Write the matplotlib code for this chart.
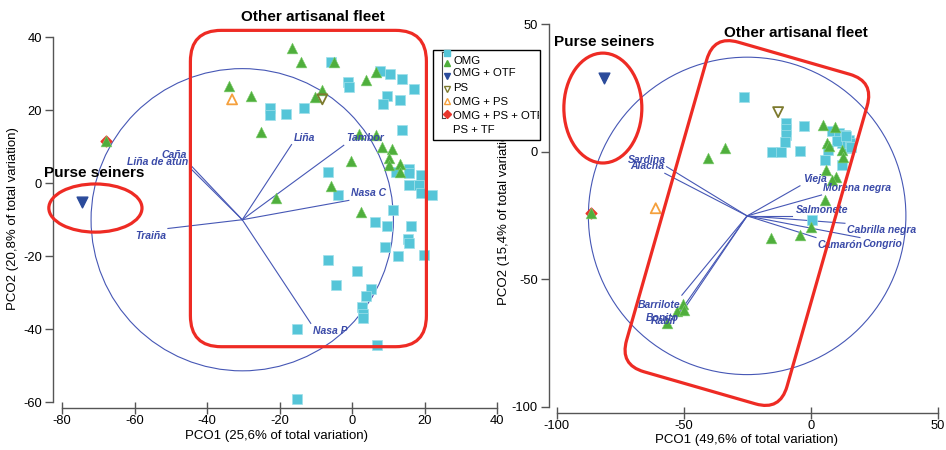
import matplotlib
matplotlib.use("Agg")
import matplotlib.pyplot as plt
from matplotlib.patches import Ellipse, FancyBboxPatch, Rectangle
from matplotlib.lines import Line2D
from matplotlib.transforms import Affine2D

plt.rcParams['font.family'] = ['Liberation Sans', 'DejaVu Sans']
plt.rcParams['axes.unicode_minus'] = False

# ---- left panel data (PCO1 25,6% / PCO2 20,8%) ----
left_omg_x = [-5.7, 7.6, 10.4, 13.9, 17.0, -1.1, -0.8, 9.7, 8.6, 13.2, -22.7, -22.7, -18.3, -13.3, 13.8,
              15.7, 15.7, 18.9, 12.2, 15.6, 18.5, 18.9, 22.1, -6.6, -3.9, 11.3, 6.4, 9.7, 16.2, 9.0,
              15.4, 15.7, 12.7, 19.9, -6.6, 1.4, -4.5, 5.1, 3.8, 2.6, 3.0, 2.9, -15.3, 7.0, -15.1]
left_omg_y = [33.1, 30.8, 29.9, 28.7, 25.8, 27.8, 26.4, 23.9, 21.6, 22.9, 20.5, 18.6, 19.1, 20.5, 14.7,
              3.8, 2.7, 2.2, 3.1, -0.5, -0.5, -2.8, -3.3, 3.1, -3.3, -7.4, -10.6, -11.8, -11.8, -17.4,
              -15.2, -16.3, -20.0, -19.8, -20.9, -24.0, -27.9, -29.1, -30.9, -33.9, -35.7, -36.8, -40.0, -44.2, -59.2]
left_otf_x = [-16.6, -14.0, -5.0, -34.0, -27.9, -25.0, -10.3, -8.4, 3.8, 6.7, 1.8, 6.5, 8.3, 10.9,
              10.2, 10.2, 13.2, 13.2, -0.4, -5.7, -21.1, 2.4, -67.9]
left_otf_y = [37.2, 33.1, 33.1, 26.6, 23.8, 14.1, 23.6, 25.5, 28.4, 30.5, 13.6, 13.2, 9.9, 9.5,
              6.8, 5.1, 5.4, 3.1, 6.1, -0.8, -4.0, -8.0, 11.6]
left_ps = (-74.5, -5.1)
left_omg_ps = (-8.2, 23.0)
left_omg_ps_otf = (-33.1, 23.0)
left_ps_tf = (-67.9, 11.6)

left_origin = (-30.3, -10.0)
left_radius = 41.7
left_vec_names = ['Caña', 'Liña de atún', 'Liña', 'Tambor', 'Nasa C', 'Nasa P', 'Traiña']
left_vec_x = [-44.3, -44.3, -16.7, -2.3, -0.9, -11.4, -50.8]
left_vec_y = [4.7, 3.8, 10.6, 10.4, -4.7, -38.4, -12.4]

# ---- right panel data (PCO1 49,6% / PCO2 15,4%) ----
right_omg_x = [-26.1, -9.7, -9.7, -9.7, -10.1, -15.4, -11.8, -4.2, -2.5, 8.3, 11.1, 13.5, 15.2, 14.6,
               12.2, 10.2, 15.5, 6.9, 5.6, 12.2, 0.6, 14.0, 15.9]
right_omg_y = [21.6, 11.1, 8.8, 6.5, 3.9, 0.0, 0.0, 0.3, 10.1, 8.0, 7.3, 6.5, 4.6, 1.3,
               3.3, 4.0, 3.3, 0.7, -3.3, -5.3, -26.8, 6.0, 2.0]
right_otf_x = [-33.7, -40.6, 5.0, 9.6, 6.6, 7.2, 12.2, 12.9, 6.0, 10.0, 8.3, 5.6, 0.0, -4.2, -15.7,
               -50.4, -52.8, -49.9, -56.7, -86.6]
right_otf_y = [1.3, -2.6, 10.4, 9.8, 3.3, 2.4, 0.7, -2.0, -7.2, -9.8, -11.0, -18.9, -29.4, -32.7, -34.0,
               -59.7, -62.7, -62.1, -67.3, -24.2]
right_ps = (-81.3, 28.8)
right_omg_ps = (-12.8, 15.5)
right_omg_ps_otf = (-61.0, -22.2)
right_ps_tf = (-86.6, -24.2)

right_origin = (-25.0, -25.2)
right_radius = 62.5
right_vec_names = ['Sardina', 'Alacha', 'Vieja', 'Morena negra', 'Salmonete', 'Cabrilla negra',
                   'Congrio', 'Camarón', 'Barrilote', 'Bonito', 'Rabil']
right_vec_x = [-56.7, -57.4, -4.2, 4.3, -7.5, 13.5, 19.4, 2.1, -50.7, -51.5, -50.3]
right_vec_y = [-5.9, -8.5, -13.4, -17.0, -25.2, -28.1, -33.7, -33.7, -56.3, -62.9, -62.5]

legend_labels = ['OMG', 'OMG + OTF', 'PS', 'OMG + PS', 'OMG + PS + OTF', 'PS + TF']

CYAN = '#55c5d8'
GREEN = '#4fae3c'
BLUE = '#2b4b9b'
OLIVE = '#7d7a2e'
ORANGE = '#f5a03c'
RED = '#e8362c'
RED_LINE = '#ee2b24'
VEC = '#4657b5'
LABEL = '#3a4aa8'

W, H = 946, 450
fig = plt.figure(figsize=(W / 100, H / 100), dpi=100)


def fpos(x, y):
    return x / W, 1 - y / H


def style_axes(ax, xticks, yticks):
    for s in ['top', 'right']:
        ax.spines[s].set_visible(False)
    for s in ['left', 'bottom']:
        ax.spines[s].set_color('#555555')
        ax.spines[s].set_linewidth(1.0)
    ax.spines['bottom'].set_bounds(xticks[0], xticks[-1])
    ax.spines['left'].set_bounds(yticks[0], yticks[-1])
    ax.set_xticks(xticks)
    ax.set_yticks(yticks)
    ax.tick_params(axis='x', direction='inout', length=8, width=1, color='#555555', labelsize=9.3, pad=1)
    ax.tick_params(axis='y', direction='out', length=6, width=1, color='#555555', labelsize=9.3, pad=2)
    ax.patch.set_alpha(0)


def draw_points(ax, omg_x, omg_y, otf_x, otf_y, ps, omg_ps, omg_ps_otf, ps_tf):
    ax.scatter([ps_tf[0]], [ps_tf[1]], marker='D', s=30, color=RED, zorder=3, clip_on=False)
    ax.scatter(omg_x, omg_y, marker='s', s=44, color=CYAN, edgecolor='#9fe0ea', linewidth=0.5,
               zorder=3, clip_on=False)
    ax.scatter(otf_x, otf_y, marker='^', s=60, color=GREEN, edgecolor='#7fcf6f', linewidth=0.4,
               zorder=4, clip_on=False)
    ax.scatter([ps[0]], [ps[1]], marker='v', s=60, color=BLUE, zorder=4, clip_on=False)
    ax.scatter([omg_ps[0]], [omg_ps[1]], marker='v', s=52, facecolor='none', edgecolor=OLIVE,
               linewidth=1.3, zorder=4, clip_on=False)
    ax.scatter([omg_ps_otf[0]], [omg_ps_otf[1]], marker='^', s=52, facecolor='none', edgecolor=ORANGE,
               linewidth=1.3, zorder=4, clip_on=False)


def draw_vectors(ax, origin, radius, sx, sy, names, vx, vy, offsets):
    ax.add_patch(Ellipse(origin, 2 * radius * sx, 2 * radius * sy, fill=False, edgecolor=VEC,
                         linewidth=0.8, zorder=2, clip_on=False))
    for name, x, y, (dx, dy, ha) in zip(names, vx, vy, offsets):
        ax.plot([origin[0], x], [origin[1], y], color=VEC, linewidth=0.8, zorder=2, clip_on=False)
        ax.annotate(name, (x, y), xytext=(dx, dy), textcoords='offset pixels', ha=ha, va='center',
                    color=LABEL, fontsize=7.5, fontweight='bold', fontstyle='italic', zorder=5)


# ---------------- left panel ----------------
axl = fig.add_axes([53 / W, 1 - 408 / H, 447 / W, 378 / H])
axl.set_xlim(-82.5, 40.8)
axl.set_ylim(-61.6, 42)
style_axes(axl, [-80, -60, -40, -20, 0, 20, 40], [-60, -40, -20, 0, 20, 40])
axl.set_xlabel('PCO1 (25,6% of total variation)', fontsize=9.5, labelpad=2)
axl.set_ylabel('PCO2 (20,8% of total variation)', fontsize=9.5, labelpad=3)

left_offsets = [(-5, 11, 'right'), (-3, 7, 'right'), (2, 7, 'left'), (3, 7, 'left'),
                (2, 7, 'left'), (2, -8, 'left'), (-2, -8, 'right')]
draw_vectors(axl, left_origin, left_radius, 1.0, 3.625 / 3.65, left_vec_names,
             left_vec_x, left_vec_y, left_offsets)
draw_points(axl, left_omg_x, left_omg_y, left_otf_x, left_otf_y,
            left_ps, left_omg_ps, left_omg_ps_otf, left_ps_tf)

axl.add_patch(Ellipse((-70.8, -6.8), 25.7, 13.2, fill=False, edgecolor=RED_LINE, linewidth=2.3,
                      zorder=6, clip_on=False))
axl.add_patch(FancyBboxPatch((-44.6, -44.8), 65.1, 86.7, boxstyle='round,pad=0,rounding_size=8.5',
                             fill=False, edgecolor=RED_LINE, linewidth=2.3, zorder=6, clip_on=False))

# ---------------- right panel ----------------
axr = fig.add_axes([549 / W, 1 - 412.7 / H, 395 / W, 397.7 / H])
axr.set_xlim(-103, 52.5)
axr.set_ylim(-102.4, 53.6)
style_axes(axr, [-100, -50, 0, 50], [-100, -50, 0, 50])
axr.set_xlabel('PCO1 (49,6% of total variation)', fontsize=9.5, labelpad=2)
axr.set_ylabel('PCO2 (15,4% of total variation)', fontsize=9.5, labelpad=1)

right_offsets = [(-1, 7, 'right'), (-1, 7, 'right'), (3, 7, 'left'), (1, 7, 'left'), (4, 6, 'left'),
                 (2, -7, 'left'), (3, -6, 'left'), (2, -7, 'left'), (-1, -10, 'right'),
                 (-1, -6, 'right'), (-7, -10, 'right')]
draw_vectors(axr, right_origin, right_radius, 1.0, 2.54 / 2.55, right_vec_names,
             right_vec_x, right_vec_y, right_offsets)
draw_points(axr, right_omg_x, right_omg_y, right_otf_x, right_otf_y,
            right_ps, right_omg_ps, right_omg_ps_otf, right_ps_tf)

axr.add_patch(Ellipse((-81.8, 17.1), 30.7, 43.1, fill=False, edgecolor=RED_LINE, linewidth=2.3,
                      zorder=6, clip_on=False))
rect = FancyBboxPatch((-25.1 - 65.7 / 2, -28.0 - 134.5 / 2), 65.7, 134.5,
                      boxstyle='round,pad=0,rounding_size=10', fill=False, edgecolor=RED_LINE,
                      linewidth=2.3, zorder=6, clip_on=False)
rect.set_transform(Affine2D().rotate_deg_around(-25.1, -28.0, -16) + axr.transData)
axr.add_patch(rect)

# ---------------- group titles ----------------
for txt, x, y in [('Other artisanal fleet', 313, 17), ('Purse seiners', 94, 173),
                  ('Purse seiners', 604, 42), ('Other artisanal fleet', 796, 33)]:
    fig.text(*fpos(x, y), txt, ha='center', va='center', fontsize=11, fontweight='bold')

# ---------------- legend (drawn over both panels) ----------------
fig.add_artist(Rectangle(fpos(433, 140), 107 / W, 90 / H, transform=fig.transFigure,
                         facecolor='white', edgecolor='black', linewidth=1, zorder=10))
bx, b0, b1 = 442, 52, 118
fig.add_artist(Line2D([bx / W, bx / W], [1 - b0 / H, 1 - b1 / H], color='#444444', linewidth=0.8,
                      transform=fig.transFigure, zorder=11))
for yy in (b0, b1):
    fig.add_artist(Line2D([bx / W, (bx + 3) / W], [1 - yy / H, 1 - yy / H], color='#444444',
                          linewidth=0.8, transform=fig.transFigure, zorder=11))
legend_marks = [('s', CYAN, CYAN, 53), ('^', GREEN, GREEN, 63), ('v', BLUE, BLUE, 76),
                ('v', 'none', OLIVE, 89), ('^', 'none', ORANGE, 101), ('D', RED, RED, 114)]
for m, fc, ec, yy in legend_marks:
    fig.add_artist(Line2D([447 / W], [1 - yy / H], marker=m, markersize=4.5, markerfacecolor=fc,
                          markeredgecolor=ec, markeredgewidth=1.0, linestyle='none',
                          transform=fig.transFigure, zorder=12))
for lab, yy in zip(legend_labels, [61, 73, 88, 102, 116, 130]):
    t = fig.text(*fpos(453, yy), lab, ha='left', va='center', fontsize=8.2, zorder=12)
    t.set_clip_path(Rectangle(fpos(433, 140), 106 / W, 90 / H, transform=fig.transFigure))

fig.savefig('out.png', dpi=100)
